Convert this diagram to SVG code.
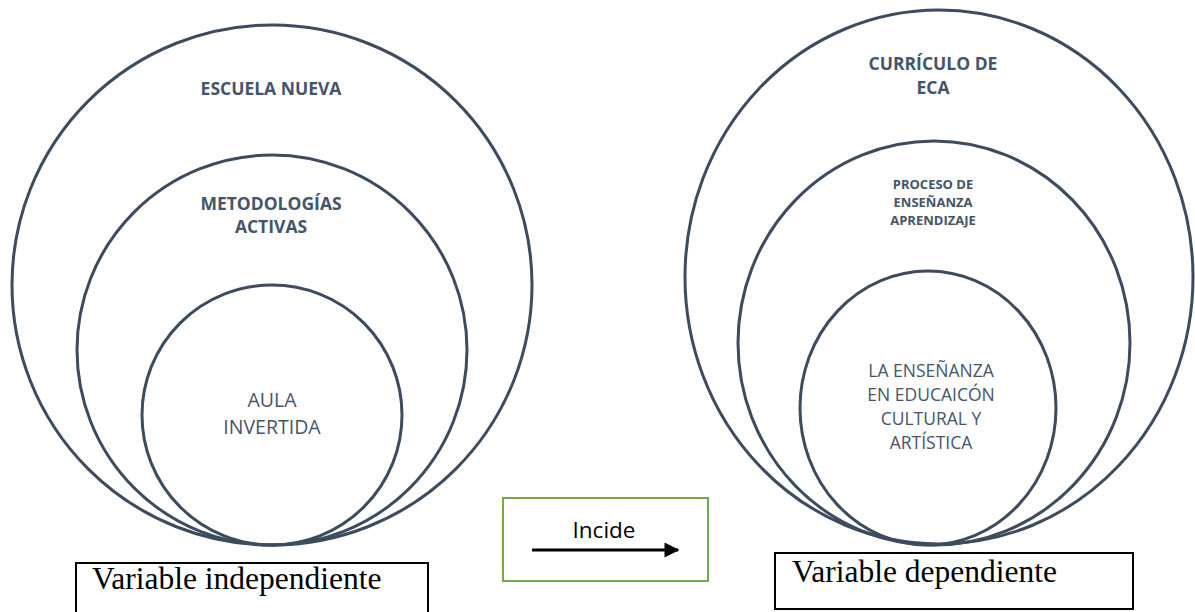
<svg xmlns="http://www.w3.org/2000/svg" width="1195" height="612" viewBox="0 0 1195 612">
<defs>
<style>
.c{fill:none;stroke:#3D4B5F;stroke-width:3}
.b{font-family:"Open Sans","Liberation Sans",sans-serif;font-weight:bold;fill:#44546A;text-anchor:middle}
.r{font-family:"Open Sans","Liberation Sans",sans-serif;fill:#44546A;text-anchor:middle}
.t{font-family:"Liberation Serif",serif;font-size:31.5px;fill:#000}
.box{fill:#fff;stroke:#000;stroke-width:2}
</style>
<marker id="ah" viewBox="0 0 10 10" refX="9" refY="5" markerWidth="5.5" markerHeight="5" orient="auto" markerUnits="strokeWidth"><path d="M0,0 L10,5 L0,10 z" fill="#000"/></marker>
</defs>
<rect width="1195" height="612" fill="#fff"/>
<g id="escuela-nueva">
<circle class="c" cx="272" cy="285" r="260"/>
<text class="b" x="271" y="95" font-size="17.5">ESCUELA NUEVA</text>
</g>
<g id="metodologias-activas">
<circle class="c" cx="272" cy="350" r="195"/>
<text class="b" x="271" y="210" font-size="17.5">METODOLOGÍAS</text>
<text class="b" x="271" y="233" font-size="17.5">ACTIVAS</text>
</g>
<g id="aula-invertida">
<circle class="c" cx="272" cy="415" r="130"/>
<text class="r" x="272" y="407" font-size="19.5">AULA</text>
<text class="r" x="272" y="434" font-size="19.5">INVERTIDA</text>
</g>
<g id="curriculo-eca">
<ellipse class="c" cx="939" cy="277" rx="254" ry="267"/>
<text class="b" x="933" y="70" font-size="17.5">CURRÍCULO DE</text>
<text class="b" x="933" y="94" font-size="17.5">ECA</text>
</g>
<g id="proceso-ensenanza">
<ellipse class="c" cx="934" cy="343" rx="196" ry="202"/>
<text class="b" x="933" y="189" font-size="13">PROCESO DE</text>
<text class="b" x="933" y="207" font-size="13">ENSEÑANZA</text>
<text class="b" x="933" y="225" font-size="13">APRENDIZAJE</text>
</g>
<g id="ensenanza-eca">
<ellipse class="c" cx="928" cy="408" rx="128" ry="137"/>
<text class="r" x="931" y="377" font-size="17.5">LA ENSEÑANZA</text>
<text class="r" x="931" y="401" font-size="17.5">EN EDUCAICÓN</text>
<text class="r" x="931" y="425" font-size="17.5">CULTURAL Y</text>
<text class="r" x="931" y="449" font-size="17.5">ARTÍSTICA</text>
</g>
<g id="incide">
<rect x="503" y="498" width="205" height="83" fill="#fff" stroke="#70AD47" stroke-width="2"/>
<text x="604" y="538" font-family="'Open Sans','Liberation Sans',sans-serif" font-size="22.5" fill="#000" text-anchor="middle">Incide</text>
</g>
<g id="connectors">
<line x1="532" y1="550" x2="678" y2="550" stroke="#000" stroke-width="3" marker-end="url(#ah)"/>
</g>
<g id="variable-independiente">
<rect class="box" x="76" y="563" width="352" height="60"/>
<text class="t" x="92" y="589">Variable independiente</text>
</g>
<g id="variable-dependiente">
<rect class="box" x="775" y="553" width="358" height="56"/>
<text class="t" x="792" y="582">Variable dependiente</text>
</g>
</svg>
